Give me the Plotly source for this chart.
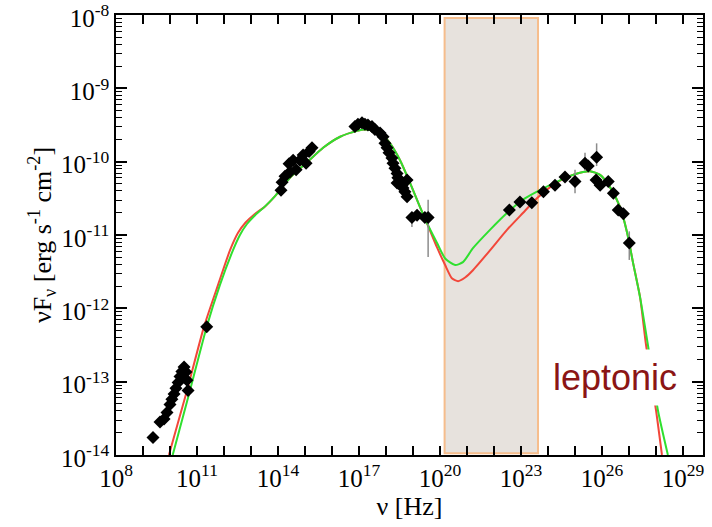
import numpy as np
import plotly.graph_objects as go

# ---- model curves (log10 nu [Hz], log10 nuFnu [erg s^-1 cm^-2]) ----
green_lognu = [10.10, 10.74, 11.36, 11.85, 12.33, 12.59, 12.85, 13.15, 13.52, 13.89, 14.44, 15.07, 15.67,
               16.30, 16.93, 17.22, 17.52, 17.89, 18.15, 18.52, 18.89, 19.26, 19.52, 19.89, 20.19,
               20.56, 20.85, 21.22, 21.85, 22.48, 23.07, 23.59, 24.07, 24.70, 25.30, 25.56, 25.93,
               26.30, 26.67, 26.93, 27.15, 27.41, 27.70, 28.07, 28.44]
green_logF = [-14.00, -13.12, -12.25, -11.68, -11.21, -11.00, -10.85, -10.73, -10.61, -10.47, -10.22, -10.01, -9.81,
              -9.66, -9.58, -9.56, -9.58, -9.64, -9.75, -9.98, -10.29, -10.62, -10.84, -11.11, -11.32,
              -11.41, -11.37, -11.18, -10.93, -10.70, -10.52, -10.41, -10.32, -10.21, -10.14, -10.13, -10.18,
              -10.35, -10.62, -10.97, -11.38, -11.85, -12.50, -13.39, -14.00]

red_lognu = [9.96, 10.63, 11.26, 11.78, 12.22, 12.52, 12.80, 13.12, 13.52, 13.89, 14.44, 15.07, 15.67,
             16.30, 16.93, 17.22, 17.52, 17.89, 18.15, 18.52, 18.89, 19.26, 19.52, 19.89, 20.19,
             20.44, 20.67, 20.93, 21.22, 21.85, 22.48, 23.07, 23.59, 24.07, 24.70, 25.30, 25.56,
             25.93, 26.30, 26.67, 26.93, 27.15, 27.41, 27.63, 28.00, 28.22]
red_logF = [-14.00, -13.12, -12.25, -11.68, -11.21, -10.97, -10.83, -10.72, -10.61, -10.47, -10.22, -10.01, -9.81,
            -9.66, -9.58, -9.56, -9.58, -9.64, -9.75, -9.98, -10.29, -10.62, -10.84, -11.17, -11.41,
            -11.59, -11.63, -11.58, -11.48, -11.21, -10.93, -10.70, -10.50, -10.35, -10.21, -10.14, -10.13,
            -10.18, -10.35, -10.62, -10.97, -11.38, -11.85, -12.50, -13.39, -14.00]

# ---- observed data points (log10) ----
data_lognu = [9.37, 9.63, 9.78, 9.89, 10.00, 10.07, 10.15, 10.22, 10.30, 10.37, 10.44, 10.52, 10.59, 10.63,
              14.11, 14.15, 14.26, 14.44, 14.41, 14.56, 14.67, 14.81, 14.93, 15.04, 15.15, 15.26,
              16.85, 16.96, 17.11, 17.22, 17.33, 17.48, 17.59, 17.78, 17.89, 17.96, 18.04, 18.11,
              18.22, 18.26, 18.33, 18.41, 18.44, 18.52, 18.59, 18.63, 18.70, 18.78, 18.41, 18.78,
              19.15, 19.44,
              22.57, 22.96, 23.83, 24.26, 24.63, 25.49, 25.78, 25.93, 26.23, 26.42, 26.60, 26.79]
data_logF = [-13.76, -13.55, -13.51, -13.42, -13.31, -13.24, -13.17, -13.09, -13.01, -12.93, -12.86, -12.80, -12.87, -12.98,
             -10.39, -10.28, -10.20, -10.14, -10.03, -9.98, -10.11, -9.98, -9.91, -10.02, -9.86, -9.81,
             -9.52, -9.49, -9.47, -9.49, -9.50, -9.52, -9.56, -9.61, -9.66, -9.75, -9.81, -9.88,
             -9.95, -10.02, -10.09, -10.16, -10.22, -10.28, -10.32, -10.36, -10.41, -10.48, -10.29, -10.25,
             -10.73, -10.76,
             -10.66, -10.55, -10.41, -10.32, -10.21, -10.06, -10.25, -10.32, -10.27, -10.43, -10.66, -10.71]

# points with error bars (log10 values, lower / upper limits)
err_lognu = [10.67, 11.36, 18.96, 19.56, 23.40, 25.00, 25.37, 25.80, 27.01]
err_logF = [-13.12, -12.25, -10.76, -10.76, -10.56, -10.27, -10.02, -9.94, -11.11]
err_ylo = [-13.12, -12.25, -10.89, -11.30, -10.62, -10.43, -10.12, -10.06, -11.34]
err_yhi = [-13.12, -12.25, -10.70, -10.52, -10.50, -10.11, -9.88, -9.75, -10.95]
err_xlo = [10.60, 11.22, 18.96, 19.56, 23.40, 25.00, 25.37, 25.80, 27.01]
err_xhi = [10.75, 11.50, 18.96, 19.56, 23.40, 25.00, 25.37, 25.80, 27.01]

# shaded energy gap (log10 nu)
band_lognu = [20.17, 23.63]

x_tick_exp = list(range(8, 30))
y_tick_exp = list(range(-14, -7))

label_text = "leptonic"

p = lambda a: 10.0 ** np.asarray(a, dtype=float)

fig = go.Figure()

fig.add_shape(type="rect", xref="x", yref="paper",
              x0=p(band_lognu[0]), x1=p(band_lognu[1]), y0=0.004, y1=0.993,
              fillcolor="#e7e2dd", line=dict(color="#f6bd8c", width=2), layer="below")

fig.add_trace(go.Scatter(x=p(red_lognu), y=p(red_logF), mode="lines",
                         line=dict(color="#f2473a", width=2, shape="spline", smoothing=0.6),
                         showlegend=False, hoverinfo="skip"))
fig.add_trace(go.Scatter(x=p(green_lognu), y=p(green_logF), mode="lines",
                         line=dict(color="#2fe02f", width=2, shape="spline", smoothing=0.6),
                         showlegend=False, hoverinfo="skip"))

fig.add_trace(go.Scatter(x=p(data_lognu), y=p(data_logF), mode="markers",
                         marker=dict(symbol="diamond", size=10, color="black"),
                         showlegend=False))

ey = p(err_logF)
ex = p(err_lognu)
fig.add_trace(go.Scatter(
    x=ex, y=ey, mode="markers",
    marker=dict(symbol="diamond", size=10, color="black"),
    error_y=dict(type="data", symmetric=False, array=p(err_yhi) - ey, arrayminus=ey - p(err_ylo),
                 color="#8c8c8c", thickness=1.5, width=0),
    error_x=dict(type="data", symmetric=False, array=p(err_xhi) - ex, arrayminus=ex - p(err_xlo),
                 color="#555555", thickness=1.2, width=0),
    showlegend=False))

fig.add_annotation(x=26.48, y=-12.95, xref="x", yref="y", text=label_text, showarrow=False,
                   font=dict(family="Liberation Sans", size=36, color="#8b1515"),
                   bgcolor="white", borderpad=7)

serif = "Liberation Serif"
xt_text = [f"10<sup>{e}</sup>" if (e - 8) % 3 == 0 else "" for e in x_tick_exp]
yt_text = [f"10<sup>{e}</sup>" for e in y_tick_exp]
minor_y = [m * 10.0 ** e for e in y_tick_exp[:-1] for m in range(2, 10)]

fig.update_xaxes(type="log", range=[8, 29.74], tickmode="array", automargin=False,
                 tickvals=p(x_tick_exp), ticktext=xt_text, ticklabeloverflow="allow",
                 ticks="inside", ticklen=9, tickwidth=1.5, tickcolor="black",
                 showline=True, linecolor="black", linewidth=1.5, mirror="ticks",
                 showgrid=False, zeroline=False,
                 tickfont=dict(family=serif, size=25, color="black"),
                 title=dict(text="ν [Hz]", font=dict(family=serif, size=26, color="black"), standoff=4))
fig.update_yaxes(type="log", range=[-14.0002, -7.9998], tickmode="array", automargin=False,
                 tickvals=p(y_tick_exp), ticktext=yt_text, ticklabeloverflow="allow",
                 ticklabelshift=3,
                 ticks="inside", ticklen=11, tickwidth=1.5, tickcolor="black",
                 minor=dict(tickmode="array", tickvals=minor_y, ticks="inside", ticklen=6,
                            tickwidth=1.2, tickcolor="black", showgrid=False),
                 showline=True, linecolor="black", linewidth=1.5, mirror="ticks",
                 showgrid=False, zeroline=False,
                 tickfont=dict(family=serif, size=25, color="black"),
                 title=dict(text="νF<sub>ν</sub> [erg s<sup>-1</sup> cm<sup>-2</sup>]",
                            font=dict(family=serif, size=26, color="black"), standoff=2))

fig.update_layout(width=712, height=527, margin=dict(l=116, r=9, t=15, b=72),
                  paper_bgcolor="white", plot_bgcolor="white")

fig.write_html("out.html")
